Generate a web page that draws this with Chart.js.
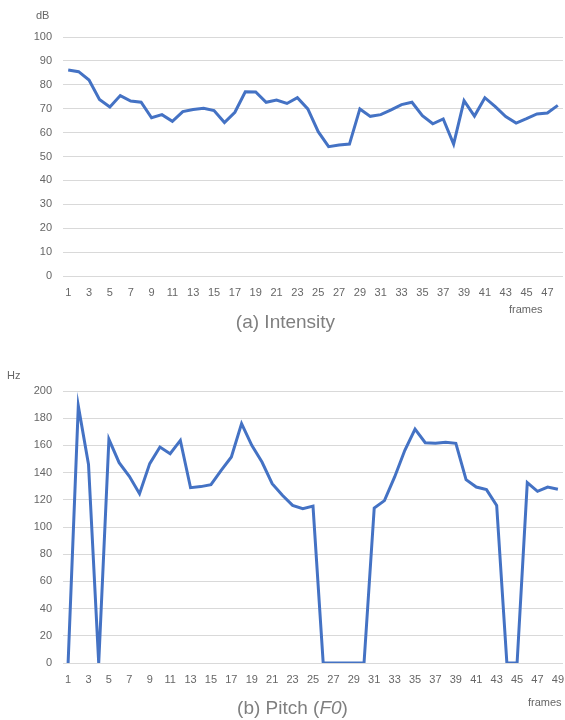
<!DOCTYPE html>
<html>
<head>
<meta charset="utf-8">
<script src="https://cdn.jsdelivr.net/npm/chart.js@4"></script>
<style>
  body { margin: 0; background: #fff; font-family: "Liberation Sans", Arial, sans-serif; }
  #wrap { position: relative; width: 565px; height: 720px; }
  canvas { position: absolute; left: 0; }
  .lbl { position: absolute; color: #666; font-size: 11px; }
  .cap { position: absolute; color: #7f7f7f; font-size: 19px; width: 565px; text-align: center; }
</style>
</head>
<body>
<div id="wrap">
  <canvas id="intensity" width="565" height="340" style="top:0"></canvas>
  <canvas id="pitch" width="565" height="380" style="top:340px"></canvas>
  <div class="lbl" style="left:36px;top:9px">dB</div>
  <div class="lbl" style="left:509px;top:303px">frames</div>
  <div class="cap" style="left:3px;top:311px">(a) Intensity</div>
  <div class="lbl" style="left:7px;top:369px">Hz</div>
  <div class="lbl" style="left:528px;top:696px">frames</div>
  <div class="cap" style="left:10px;top:697px">(b) Pitch (<i>F0</i>)</div>
</div>
<script>
  // Intensity (dB), frames 1..48
  const intensity = [86.2, 85.5, 82, 73.9, 70.7, 75.5, 73.2, 72.7, 66.2, 67.5,
    64.7, 68.8, 69.7, 70.2, 69.2, 64.2, 68.5, 77.1, 77, 72.7,
    73.6, 72.2, 74.6, 69.9, 60.4, 54.1, 54.8, 55.2, 69.9, 66.8,
    67.5, 69.5, 71.7, 72.7, 67.1, 63.7, 65.7, 55.2, 73.4, 66.9,
    74.6, 70.9, 66.7, 64, 65.8, 67.8, 68.2, 71.4];

  // Pitch F0 (Hz), frames 1..49
  const pitch = [0, 189, 146, 0, 164.5, 147.3, 137.3, 124.5, 146.6, 158.8,
    153.9, 163.7, 128.9, 129.7, 131.1, 141.7, 151.5, 176, 160, 147.8,
    131.9, 123.3, 115.9, 113.5, 115.4, 0, 0, 0, 0, 0,
    114, 119.4, 136.8, 156.4, 172, 162, 161.5, 162.3, 161.5, 134.8,
    129.4, 127.5, 115.9, 0, 0, 132.6, 126.2, 129.4, 127.7];

  const intensityFrames = intensity.map((v, i) => i + 1);
  const pitchFrames = pitch.map((v, i) => i + 1);

  const lineColor = "#4472C4";
  const tickColor = "#666";
  const gridColor = "#d9d9d9";

  function makeChart(id, labels, values, yMax, yStep, padTop, xHeight) {
    const ctx = document.getElementById(id).getContext("2d");
    return new Chart(ctx, {
      type: "line",
      data: {
        labels: labels,
        datasets: [
          {
            data: values,
            borderColor: lineColor,
            borderWidth: 3,
            pointRadius: 0,
            tension: 0,
            fill: false,
          },
        ],
      },
      options: {
        responsive: false,
        animation: false,
        devicePixelRatio: 1,
        layout: { padding: { top: padTop, right: 2, left: 0, bottom: 0 } },
        plugins: { legend: { display: false }, tooltip: { enabled: false } },
        scales: {
          x: {
            offset: true,
            grid: { display: false, drawTicks: false },
            border: { display: false },
            ticks: {
              autoSkip: false,
              maxRotation: 0,
              color: tickColor,
              font: { family: "Liberation Sans", size: 11 },
              padding: 10,
              callback: function (val, index) {
                return index % 2 === 0 ? this.getLabelForValue(val) : "";
              },
            },
            afterFit: (scale) => {
              scale.height = xHeight;
              scale.paddingLeft = 0;
              scale.paddingRight = 0;
            },
          },
          y: {
            min: 0,
            max: yMax,
            grid: { color: gridColor, lineWidth: 1, drawTicks: false },
            border: { display: false },
            ticks: {
              stepSize: yStep,
              color: tickColor,
              font: { family: "Liberation Sans", size: 11 },
              padding: 11,
            },
            afterFit: (scale) => {
              scale.width = 63;
              scale.paddingTop = 0;
              scale.paddingBottom = 0;
            },
          },
        },
      },
    });
  }

  makeChart("intensity", intensityFrames, intensity, 100, 10, 37, 64);
  makeChart("pitch", pitchFrames, pitch, 200, 20, 51, 57);
</script>
</body>
</html>
